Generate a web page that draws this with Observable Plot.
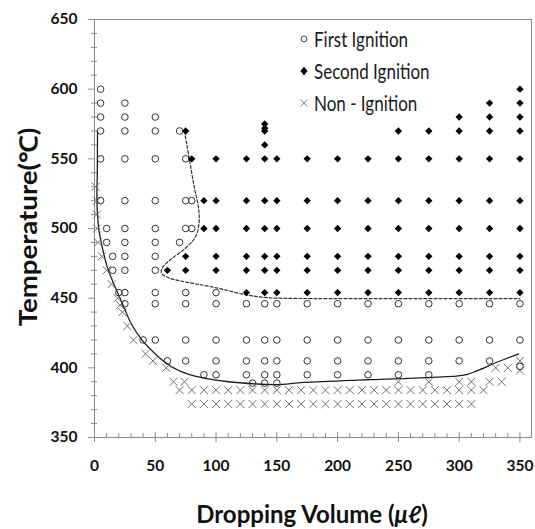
<!DOCTYPE html>
<html><head><meta charset="utf-8">
<script src="https://cdn.jsdelivr.net/npm/d3@7"></script>
<script src="https://cdn.jsdelivr.net/npm/@observablehq/plot@0.6"></script>
<style>
body{margin:0;background:#fff;}
#wrap{position:relative;width:535px;height:529px;font-family:Lato,"Open Sans",sans-serif;}
.ttl{position:absolute;font-weight:bold;color:#111;white-space:nowrap;transform:translate(-50%,-50%);}
.leg{position:absolute;left:298px;font-size:17px;color:#1a1a1a;white-space:nowrap;}
.leg div{height:32px;line-height:32px;display:flex;align-items:center;}
.leg span{display:inline-block;transform:scaleY(1.25);}
.leg svg{margin-right:4px;}
</style></head><body><div id="wrap"></div>
<script>
// ---- axis ticks ----
const xTicks = [0, 50, 100, 150, 200, 250, 300, 350];
const xMinor = [10,20,30,40,60,70,80,90,110,120,130,140,160,170,180,190,210,220,230,240,260,270,280,290,310,320,330,340];
const yTicks = [350, 400, 450, 500, 550, 600, 650];
const yMinor = [360,370,380,390,410,420,430,440,460,470,480,490,510,520,530,540,560,570,580,590,610,620,630,640];

// ---- First Ignition (rows of temperature, volumes) ----
const firstT = [600, 590, 580, 570, 550, 520, 500, 490, 480, 470, 454, 446, 420, 405, 401, 395, 389];
const firstV = [
  [5],
  [5, 25],
  [5, 25, 50],
  [5, 25, 50, 70],
  [5, 25, 50, 75],
  [5, 25, 50, 75, 80],
  [10, 25, 50, 75, 80],
  [10, 25, 50, 70],
  [15, 25, 50],
  [15, 25, 50],
  [20, 25, 50, 75, 100],
  [25, 50, 75, 100, 125, 140, 150, 175, 200, 225, 250, 275, 300, 325, 350],
  [40, 50, 75, 100, 125, 140, 150, 175, 200, 225, 250, 275, 300, 325, 350],
  [60, 75, 100, 125, 140, 150, 175, 200, 225, 250, 275, 300, 325],
  [350],
  [90, 100, 125, 140, 150, 175, 200, 225, 250, 275],
  [130, 140, 150]
];

// ---- Second Ignition ----
const secondT = [600, 590, 580, 575, 572, 570, 560, 550, 520, 500, 480, 470, 454];
const secondV = [
  [350],
  [325, 350],
  [300, 325, 350],
  [140],
  [140],
  [75, 140, 250, 275, 300, 325, 350],
  [140],
  [80, 100, 125, 140, 150, 175, 200, 225, 250, 275, 300, 325, 350],
  [90, 100, 125, 140, 150, 175, 200, 225, 250, 275, 300, 325, 350],
  [90, 100, 125, 140, 150, 175, 200, 225, 250, 275, 300, 325, 350],
  [75, 100, 125, 140, 150, 175, 200, 225, 250, 275, 300, 325, 350],
  [60, 75, 100, 125, 140, 150, 175, 200, 225, 250, 275, 300, 325, 350],
  [125, 140, 150, 175, 200, 225, 250, 275, 300, 325, 350]
];

// ---- Non - Ignition ----
const nonT = [530, 520, 510, 500, 490, 480, 470, 460, 450, 445, 440, 430, 420, 410, 405, 400, 398, 390, 384, 374];
const nonV = [
  [1], [2], [2], [2], [3], [6], [10], [14], [19], [21], [23], [27], [32], [42],
  [48, 350],
  [59, 330, 340],
  [350],
  [65, 74, 250, 275, 300, 310, 325, 335],
  [70, 80, 90, 100, 110, 120, 130, 140, 150, 160, 170, 180, 190, 200, 210, 220, 230, 240, 250, 260, 270, 280, 290, 300, 310, 320],
  [80, 90, 100, 110, 120, 130, 140, 150, 160, 170, 180, 190, 200, 210, 220, 230, 240, 250, 260, 270, 280, 290, 300, 310]
];

// ---- boundary curves ----
const lowerV = [2.5, 2.3, 2, 3.5, 6, 11, 18, 24, 30, 39, 50, 63, 77, 91, 110, 132, 150, 172, 227, 273, 304, 315, 331, 349];
const lowerT = [570, 540, 520, 500, 488, 471, 456, 444, 432, 420, 410, 401, 395.5, 392.5, 390, 388.5, 388, 389.5, 391.5, 393, 394.7, 398, 404, 410];
const upperV = [74, 78, 82, 85.5, 86, 83, 75, 63, 56, 55, 60, 70, 85, 100, 124, 140, 150, 250, 350];
const upperT = [570, 550, 530, 515, 504, 494, 486, 478, 472, 468, 465, 462.5, 460, 457.5, 452.5, 450.5, 450, 449.7, 449.7];

const rows = (Ts, Vs) => Ts.flatMap((t, i) => Vs[i].map(v => ({x: v, y: t})));
const first = rows(firstT, firstV);
const second = rows(secondT, secondV);
const non = rows(nonT, nonV);
const lower = lowerV.map((v, i) => ({x: v, y: lowerT[i]}));
const upper = upperV.map((v, i) => ({x: v, y: upperT[i]}));

const axisCol = "#8c8c8c";
const chart = Plot.plot({
  width: 535, height: 529,
  marginLeft: 94, marginRight: 4, marginTop: 19, marginBottom: 92,
  style: {fontFamily: "Lato, sans-serif", background: "white", overflow: "visible"},
  x: {domain: [0, 359.5]},
  y: {domain: [350, 650]},
  marks: [
    Plot.frame({stroke: axisCol}),
    Plot.axisY({ticks: yTicks, tickSize: 6, tickPadding: 11, stroke: axisCol, fill: "#111", fontSize: 15.5, fontWeight: "bold", label: null}),
    Plot.axisY({ticks: yMinor, tickSize: 3, text: null, stroke: axisCol, label: null}),
    Plot.axisY({ticks: yMinor, tickSize: -3, text: null, stroke: axisCol, label: null}),
    Plot.axisX({ticks: xTicks, tickSize: 5, tickPadding: 17, stroke: axisCol, fill: "#111", fontSize: 15.5, fontWeight: "bold", label: null}),
    Plot.axisX({ticks: xTicks, tickSize: -5, text: null, stroke: axisCol, label: null}),
    Plot.axisX({ticks: xMinor, tickSize: -4, text: null, stroke: axisCol, label: null}),
    Plot.line(lower, {x: "x", y: "y", curve: "catmull-rom", stroke: "#1e1e1e", strokeWidth: 1.3}),
    Plot.line(upper, {x: "x", y: "y", curve: "catmull-rom", stroke: "#333", strokeWidth: 1.2, strokeDasharray: "3,2"}),
    Plot.dot(non, {x: "x", y: "y", symbol: "times", r: 3.7, stroke: "#707070", strokeWidth: 1}),
    Plot.dot(first, {x: "x", y: "y", r: 3.3, stroke: "#333", fill: "none", strokeWidth: 1}),
    Plot.dot(second, {x: "x", y: "y", symbol: "diamond2", r: 3.3, fill: "#000", stroke: "none"})
  ]
});

const wrap = document.getElementById("wrap");
wrap.appendChild(chart);

const yl = document.createElement("div");
yl.className = "ttl";
yl.style.cssText = "left:27px;top:227px;font-size:24px;transform:translate(-50%,-50%) rotate(-90deg) scaleX(1.15);";
yl.textContent = "Temperature(℃)";
wrap.appendChild(yl);

const xl = document.createElement("div");
xl.className = "ttl";
xl.style.cssText = "left:312px;top:513px;font-size:24px;";
xl.innerHTML = "Dropping Volume (<i>μℓ</i>)";
wrap.appendChild(xl);

const leg = document.createElement("div");
leg.className = "leg";
leg.style.top = "23px";
leg.innerHTML =
  '<div><svg width="12" height="12" viewBox="-6 -6 12 12"><circle r="3" fill="none" stroke="#444" stroke-width="1"/></svg><span>First Ignition</span></div>' +
  '<div><svg width="12" height="12" viewBox="-6 -6 12 12"><path d="M0,-4.2L3.6,0L0,4.2L-3.6,0Z" fill="#000"/></svg><span>Second Ignition</span></div>' +
  '<div><svg width="12" height="12" viewBox="-6 -6 12 12"><path d="M-3.5,-3.5L3.5,3.5M-3.5,3.5L3.5,-3.5" stroke="#888" stroke-width="1"/></svg><span>Non - Ignition</span></div>';
wrap.appendChild(leg);
</script></body></html>
